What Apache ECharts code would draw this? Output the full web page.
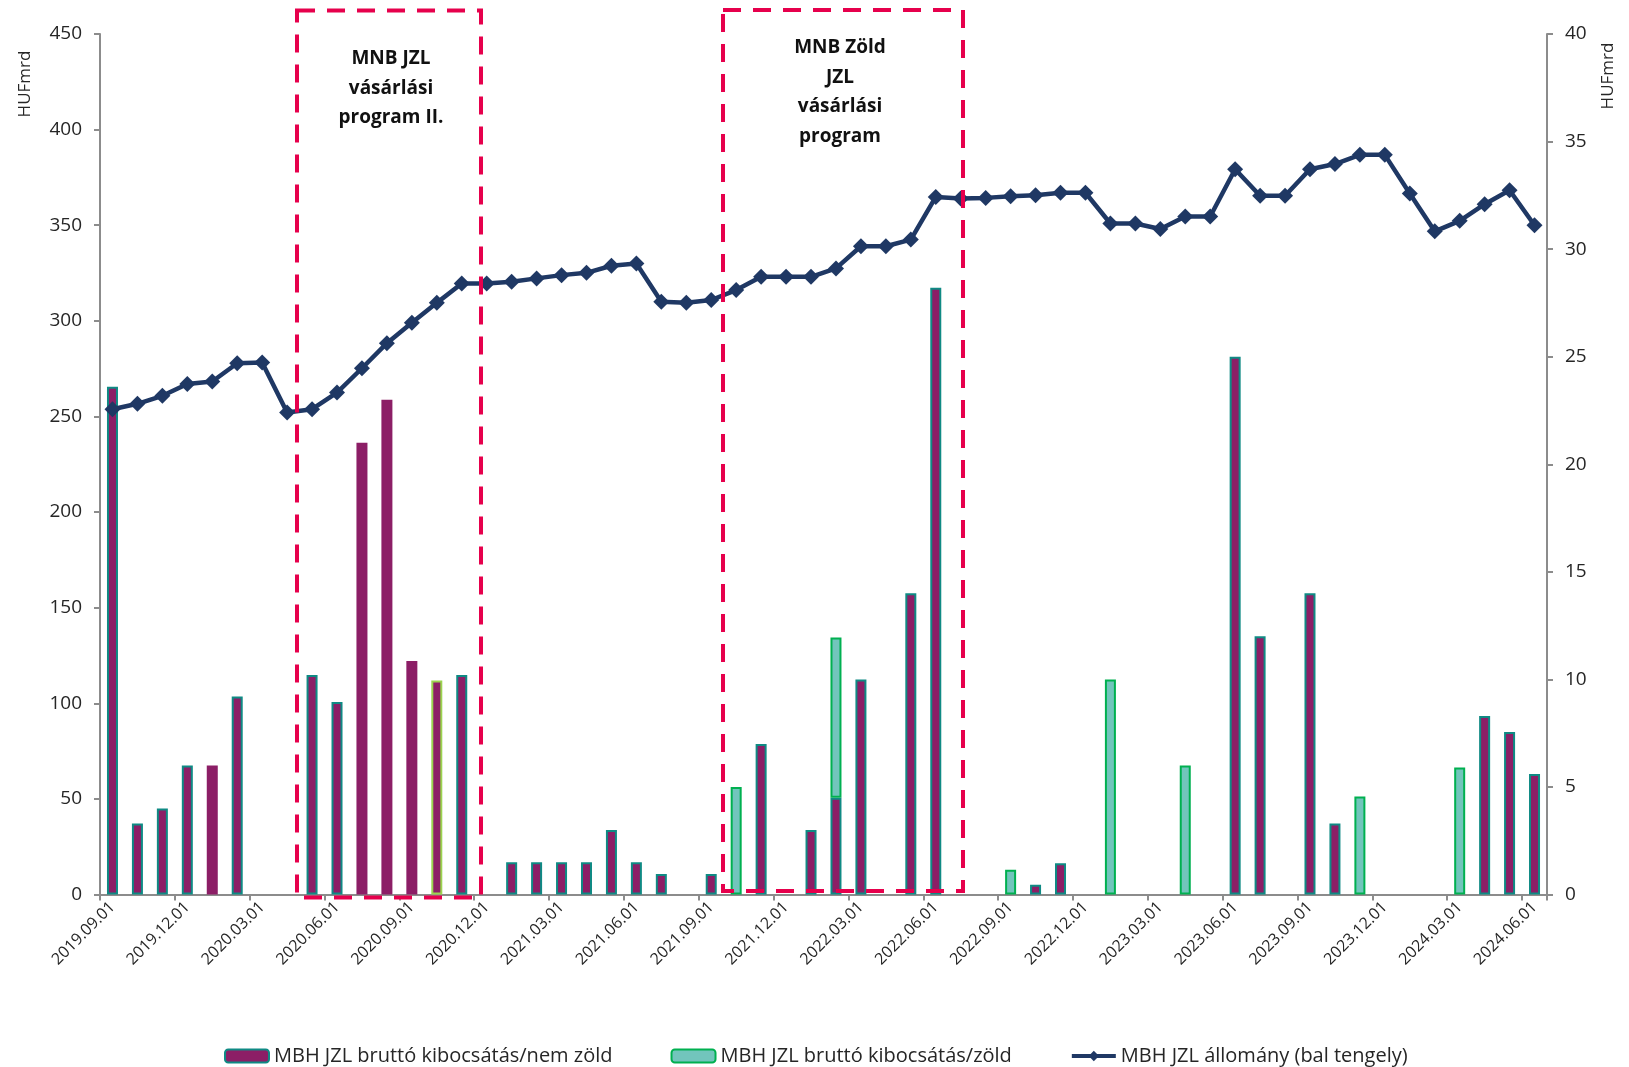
<!DOCTYPE html>
<html>
<head>
<meta charset="utf-8">
<script src="https://cdn.jsdelivr.net/npm/echarts@6/dist/echarts.min.js"></script>
<style>
html,body{margin:0;padding:0;background:#fff;}
#chart{width:1629px;height:1067px;}
</style>
</head>
<body>
<div id="chart"></div>
<script>
const categories = [
  "2019.09.01","2019.10.01","2019.11.01","2019.12.01","2020.01.01","2020.02.01","2020.03.01","2020.04.01","2020.05.01","2020.06.01",
  "2020.07.01","2020.08.01","2020.09.01","2020.10.01","2020.11.01","2020.12.01","2021.01.01","2021.02.01","2021.03.01","2021.04.01",
  "2021.05.01","2021.06.01","2021.07.01","2021.08.01","2021.09.01","2021.10.01","2021.11.01","2021.12.01","2022.01.01","2022.02.01",
  "2022.03.01","2022.04.01","2022.05.01","2022.06.01","2022.07.01","2022.08.01","2022.09.01","2022.10.01","2022.11.01","2022.12.01",
  "2023.01.01","2023.02.01","2023.03.01","2023.04.01","2023.05.01","2023.06.01","2023.07.01","2023.08.01","2023.09.01","2023.10.01",
  "2023.11.01","2023.12.01","2024.01.01","2024.02.01","2024.03.01","2024.04.01","2024.05.01","2024.06.01"
];

// MBH JZL állomány (bal tengely), HUF mrd
const stock = [
  253.8,256.6,260.8,267.0,268.3,277.8,278.2,252.1,253.8,262.5,
  275.2,288.3,299.0,309.4,319.5,319.5,320.4,322.2,323.9,325.1,
  328.8,330.0,310.0,309.5,310.9,316.1,323.0,323.0,323.0,327.4,
  339.0,339.0,342.5,364.8,364.0,364.3,365.1,365.7,367.0,367.0,
  350.9,350.9,348.0,354.6,354.6,379.3,365.4,365.4,379.3,382.0,
  386.8,386.8,366.6,346.8,352.3,361.0,368.3,350.0
];

// MBH JZL bruttó kibocsátás / nem zöld (jobb tengely), HUF mrd
const issueNonGreen = [
  23.6,3.3,4.0,6.0,6.0,9.2,null,null,10.2,8.95,
  21.0,23.0,10.85,9.95,10.2,null,1.5,1.5,1.5,1.5,
  3.0,1.5,0.95,null,0.95,null,7.0,null,3.0,4.5,
  10.0,null,14.0,28.2,null,null,null,0.45,1.45,null,
  null,null,null,null,null,25.0,12.0,null,14.0,3.3,
  null,null,null,null,null,8.3,7.55,5.6
];

// MBH JZL bruttó kibocsátás / zöld (jobb tengely), HUF mrd
const issueGreen = [
  null,null,null,null,null,null,null,null,null,null,
  null,null,null,null,null,null,null,null,null,null,
  null,null,null,null,null,5.0,null,null,null,7.45,
  null,null,null,null,null,null,1.15,null,null,null,
  10.0,null,null,6.0,null,null,null,null,null,null,
  4.55,null,null,null,5.9,null,null,null
];

const leftTicks = {min:0, max:450, interval:50};
const rightTicks = {min:0, max:40, interval:5};

const seriesNames = [
  "MBH JZL bruttó kibocsátás/nem zöld",
  "MBH JZL bruttó kibocsátás/zöld",
  "MBH JZL állomány (bal tengely)"
];

// border variants seen in the picture (style only)
const purpleBorderOnly = {4:true,10:true,11:true,12:true};
const limeBorder = {13:true};

const FONT = '"Open Sans", "Liberation Sans", sans-serif';
const axisGray = '#8c8c8c';
const textCol = '#262626';
const navy = '#1F3864';

const nonGreenData = issueNonGreen.map((v,i)=>{
  if (v === null) return null;
  if (purpleBorderOnly[i]) return {value:v, itemStyle:{borderColor:'#8C1E66'}};
  if (limeBorder[i]) return {value:v, itemStyle:{borderColor:'#9BD44F'}};
  return v;
});

const chart = echarts.init(document.getElementById('chart'), null, {renderer:'canvas'});

const option = {
  backgroundColor:'#ffffff',
  animation:false,
  grid:{left:100, right:82, top:34, bottom:172.5, containLabel:false},
  legend:{
    data:[
      {name:seriesNames[0]},
      {name:seriesNames[1]},
      {name:seriesNames[2], lineStyle:{width:4, color:navy}, itemStyle:{color:navy}}
    ],
    left:219, top:1041,
    itemWidth:44, itemHeight:13, itemGap:58,
    textStyle:{fontFamily:FONT, fontSize:20, color:textCol}
  },
  xAxis:{
    type:'category',
    data:categories,
    boundaryGap:true,
    axisLine:{lineStyle:{color:axisGray, width:2}},
    axisTick:{show:true, interval:2, length:6, lineStyle:{color:axisGray, width:2}},
    axisLabel:{interval:2, rotate:45, fontFamily:FONT, fontSize:16, color:textCol, margin:10},
    splitLine:{show:false}
  },
  yAxis:[
    {
      type:'value', position:'left',
      min:leftTicks.min, max:leftTicks.max, interval:leftTicks.interval,
      axisLine:{show:true, lineStyle:{color:axisGray, width:2}},
      axisTick:{show:true, length:6, lineStyle:{color:axisGray, width:2}},
      axisLabel:{fontFamily:FONT, fontSize:19, color:textCol, margin:18},
      splitLine:{show:false}
    },
    {
      type:'value', position:'right',
      min:rightTicks.min, max:rightTicks.max, interval:rightTicks.interval,
      axisLine:{show:true, lineStyle:{color:axisGray, width:2}},
      axisTick:{show:true, length:6, lineStyle:{color:axisGray, width:2}},
      axisLabel:{fontFamily:FONT, fontSize:19, color:textCol, margin:18},
      splitLine:{show:false}
    }
  ],
  series:[
    {
      name:seriesNames[0], type:'bar', yAxisIndex:1, stack:'issue',
      barWidth:11,
      itemStyle:{color:'#8C1E66', borderColor:'#0F8A84', borderWidth:2},
      data:nonGreenData, z:2
    },
    {
      name:seriesNames[1], type:'bar', yAxisIndex:1, stack:'issue',
      barWidth:11,
      itemStyle:{color:'#72C5BC', borderColor:'#00B050', borderWidth:2},
      data:issueGreen, z:2
    },
    {
      name:seriesNames[2], type:'line', yAxisIndex:0,
      symbol:'diamond', symbolSize:16,
      lineStyle:{color:navy, width:4.5},
      itemStyle:{color:navy},
      data:stock, z:5
    }
  ],
  graphic:[
    {type:'rect', z:100, shape:{x:297, y:10.5, width:184, height:887},
      style:{fill:null, stroke:'#E6004C', lineWidth:4, lineDash:[18,12]}},
    {type:'rect', z:100, shape:{x:723, y:10, width:240, height:881},
      style:{fill:null, stroke:'#E6004C', lineWidth:4, lineDash:[18,12]}},
    {type:'text', z:101, x:391, y:44,
      style:{text:'MNB JZL\nvásárlási\nprogram II.', textAlign:'center', textVerticalAlign:'top',
        fontFamily:FONT, fontWeight:'bold', fontSize:19, lineHeight:29.5, fill:'#111'}},
    {type:'text', z:101, x:840, y:33,
      style:{text:'MNB Zöld\nJZL\nvásárlási\nprogram', textAlign:'center', textVerticalAlign:'top',
        fontFamily:FONT, fontWeight:'bold', fontSize:19, lineHeight:29.5, fill:'#111'}},
    {type:'text', z:101, x:25, y:84, rotation:Math.PI/2,
      style:{text:'HUFmrd', textAlign:'center', textVerticalAlign:'middle',
        fontFamily:FONT, fontSize:17, fill:textCol}},
    {type:'text', z:101, x:1608, y:76, rotation:Math.PI/2,
      style:{text:'HUFmrd', textAlign:'center', textVerticalAlign:'middle',
        fontFamily:FONT, fontSize:17, fill:textCol}}
  ]
};
chart.setOption(option);
</script>
</body>
</html>
